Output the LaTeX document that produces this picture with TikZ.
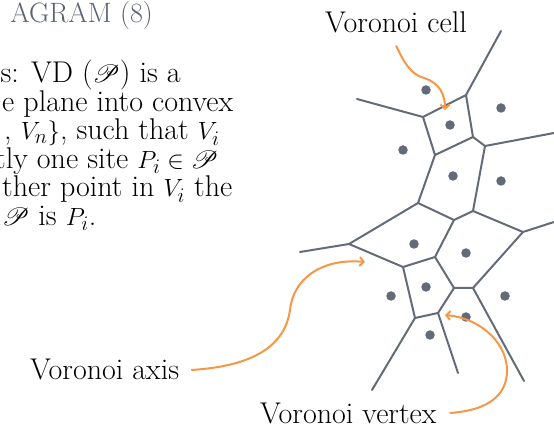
\documentclass[tikz,border=0pt]{standalone}
\usepackage{amsmath,amssymb,mathrsfs}
\usepackage{tikz}
\usetikzlibrary{calc, arrows.meta}

\definecolor{edgegray}{RGB}{100,107,120}
\definecolor{titlegray}{RGB}{90,98,112}
\definecolor{arroworange}{RGB}{247,150,70}

\tikzset{
  cellline/.style={draw=edgegray, line width=2pt, line cap=round, line join=round},
  site/.style={circle, fill=edgegray, inner sep=0pt, minimum size=9.5pt},
  callout/.style={draw=arroworange, line width=2pt, -{Straight Barb[length=4pt,width=9pt]}},
  txt/.style={inner sep=0pt, anchor=base west, font=\fontsize{30}{30}\selectfont},
}

\begin{document}
\begin{tikzpicture}[x=1pt,y=-1pt]
      \useasboundingbox (0,0) rectangle (554,427);
      \clip (0,0) rectangle (554,427);
      % text on the left
      \node[txt, anchor=base east, text=titlegray, font=\fontsize{28}{28}\selectfont] (title) at (153,23) {AGRAM (8)};
      \node[txt] (l1) at (0.5,83) {s: VD ($\mathscr{P}$) is a};
      \node[txt] (l2) at (2,111.5) {e plane into convex};
      \node[txt] (l3) at (4,140) {, $V_n\}$, such that $V_i$};
      \node[txt] (l4) at (-5,168.5) {tly one site $P_i \in \mathscr{P}$};
      \node[txt] (l5) at (2,197) {ther point in $V_i$ the};
      \node[txt] (l6) at (2,225.5) {$\mathscr{P}$ is $P_i$.};
      % labels
      \node[txt] (cell) at (325,33) {Voronoi cell};
      \node[txt] (axis) at (30,380) {Voronoi axis};
      \node[txt] (vertex) at (260,423) {Voronoi vertex};
      % vertices
      \coordinate (v1) at (466,95);
      \coordinate (v2) at (423,117);
      \coordinate (v3) at (473,137);
      \coordinate (v4) at (435,155);
      \coordinate (v5) at (485,146);
      \coordinate (v6) at (418,203);
      \coordinate (v7) at (473,211);
      \coordinate (v8) at (454,220);
      \coordinate (v9) at (349,244);
      \coordinate (v10) at (523,232);
      \coordinate (v11) at (435,257);
      \coordinate (v12) at (403,267);
      \coordinate (v13) at (454,288);
      \coordinate (v14) at (473,288);
      \coordinate (v15) at (415,318);
      \coordinate (v16) at (438,313);
      % open ends
      \coordinate (e1) at (501,31);
      \coordinate (e2) at (357,99);
      \coordinate (e3) at (554,133);
      \coordinate (e4) at (300,252);
      \coordinate (e5) at (554,222);
      \coordinate (e6) at (372,390);
      \coordinate (e7) at (458,373);
      \coordinate (e8) at (524,381);
      % top cells
      \draw[cellline] (e1) -- (v1) -- (v2) -- (e2);
      \draw[cellline] (v1) -- (v3) -- (v4) -- (v2);
      \draw[cellline] (v3) -- (v5) -- (e3);
      % middle cells
      \draw[cellline] (v4) -- (v6) -- (v8) -- (v7) -- (v5);
      \draw[cellline] (v6) -- (v9) -- (e4);
      \draw[cellline] (v7) -- (v10) -- (e5);
      % bottom cells
      \draw[cellline] (v9) -- (v12) -- (v11) -- (v8);
      \draw[cellline] (v11) -- (v13) -- (v14) -- (v10);
      \draw[cellline] (v12) -- (v15) -- (v16) -- (v13);
      \draw[cellline] (v15) -- (e6);
      \draw[cellline] (v16) -- (e7);
      \draw[cellline] (v14) -- (e8);
      % sites
      \node[site] (s1) at (426,90) {};
      \node[site] (s2) at (501,108) {};
      \node[site] (s3) at (450,125) {};
      \node[site] (s4) at (403,150) {};
      \node[site] (s5) at (453,176) {};
      \node[site] (s6) at (501,181) {};
      \node[site] (s7) at (414,244) {};
      \node[site] (s8) at (466,253) {};
      \node[site] (s9) at (391,296) {};
      \node[site] (s10) at (426,287) {};
      \node[site] (s11) at (505,296) {};
      \node[site] (s12) at (466,317) {};
      \node[site] (s13) at (430,335) {};
      % callout arrows
      \coordinate (celltip) at (445,110);
      \coordinate (axistip) at (365,262);
      \coordinate (vertextip) at (445,315);
      \draw[callout] ([yshift=-12pt]cell.south) .. controls (404,62) and (410,74) .. (424,78)
            .. controls (440,83) and (445,95) .. (celltip);
      \draw[callout] ([xshift=12pt]axis.east) .. controls (255,366) and (285,345) .. (290,310)
            .. controls (293,280) and (320,258) .. (axistip);
      \draw[callout] ([xshift=13pt]vertex.east) .. controls (495,410) and (508,390) .. (507,368)
            .. controls (505,340) and (478,318) .. (vertextip);
\end{tikzpicture}
\end{document}
